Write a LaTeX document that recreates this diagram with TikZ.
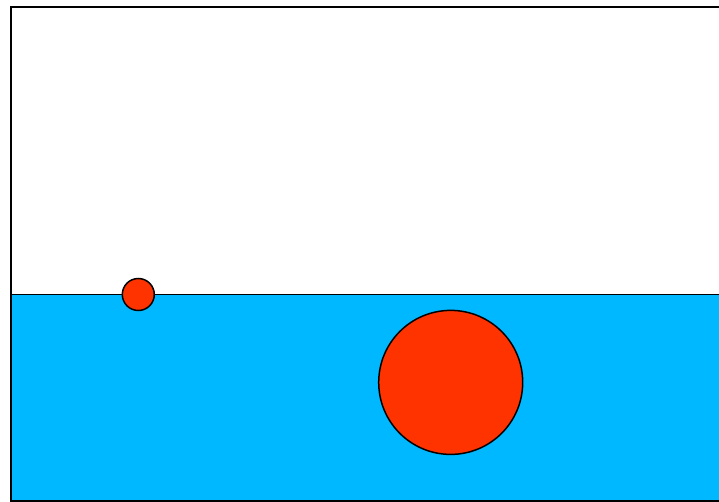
\documentclass[tikz,border=0pt]{standalone}
\definecolor{water}{HTML}{00B8FF}
\definecolor{ball}{HTML}{FF3300}
\tikzset{
  ballstyle/.style={circle, draw=black, fill=ball, line width=1.5bp, inner sep=0pt},
  framestyle/.style={draw=black, line width=1.5bp}
}
\begin{document}
\begin{tikzpicture}[x=1bp,y=-1bp]
\useasboundingbox (0,0) rectangle (719,502);
\clip (0,0) rectangle (719,502);
\fill[white] (0,0) rectangle (719,502);
\draw[framestyle] (11,7) rectangle (740,501);
\draw[framestyle, fill=water] (11,294.5) rectangle (740,501);
\node[ballstyle, minimum size=32bp] (small) at (138.3,294.5) {};
\node[ballstyle, minimum size=144bp] (big) at (450.7,382.4) {};
\end{tikzpicture}
\end{document}
